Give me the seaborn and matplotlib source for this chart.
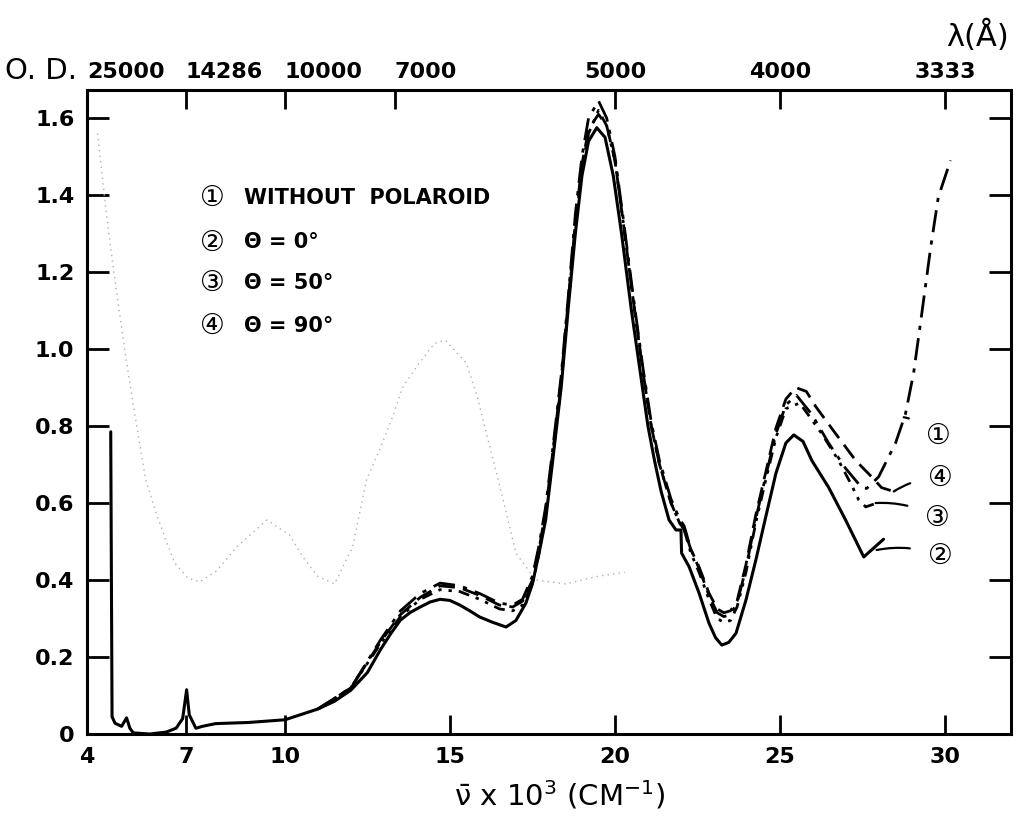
import numpy as np
import pandas as pd
import matplotlib
matplotlib.use("Agg")
import matplotlib.pyplot as plt
import matplotlib.ticker as mticker
import seaborn as sns

# ---------------- data ----------------
# curve 2 : theta = 0 deg (solid)
x2 = [4.72, 4.76, 4.85, 5.05, 5.2, 5.3, 5.4, 5.9, 6.4, 6.7, 6.9, 7.02, 7.1, 7.3, 7.5, 7.9,
      8.9, 10.0, 11.0, 11.5, 12.0, 12.5, 12.9, 13.2, 13.5, 13.8, 14.1, 14.4, 14.7, 15.0,
      15.3, 15.6, 15.9, 16.3, 16.7, 17.0, 17.3, 17.5, 17.7, 17.9, 18.1, 18.37, 18.6, 18.8,
      19.0, 19.2, 19.45, 19.7, 19.95, 20.2, 20.5, 20.8, 21.0, 21.2, 21.4, 21.64, 21.85,
      22.0, 22.02, 22.25, 22.55, 22.85, 23.05, 23.24, 23.45, 23.67, 23.97, 24.27, 24.57,
      24.88, 25.18, 25.42, 25.7, 25.97, 26.48, 26.99, 27.54, 28.14]
y2 = [0.785, 0.045, 0.028, 0.02, 0.042, 0.015, 0.003, 0.0, 0.005, 0.015, 0.04, 0.115,
      0.05, 0.015, 0.02, 0.027, 0.03, 0.037, 0.065, 0.085, 0.114, 0.16, 0.22, 0.26, 0.296,
      0.316, 0.33, 0.343, 0.35, 0.347, 0.335, 0.32, 0.304, 0.29, 0.278, 0.295, 0.34, 0.39,
      0.47, 0.556, 0.70, 0.90, 1.12, 1.30, 1.45, 1.54, 1.575, 1.55, 1.45, 1.30, 1.10, 0.92,
      0.80, 0.71, 0.63, 0.556, 0.53, 0.53, 0.47, 0.434, 0.366, 0.288, 0.25, 0.231, 0.238,
      0.262, 0.348, 0.452, 0.564, 0.678, 0.756, 0.777, 0.76, 0.71, 0.64, 0.556, 0.46,
      0.506]

xc = [11.0, 12.0, 12.9, 13.5, 14.1, 14.7, 15.3, 15.9, 16.5, 16.9, 17.2, 17.5, 17.7, 17.9,
      18.1, 18.37, 18.6, 18.8, 19.0, 19.2, 19.5, 19.75, 20.0, 20.25, 20.55, 20.85, 21.1,
      21.35, 21.7, 21.95, 22.1, 22.3, 22.55, 22.85, 23.1, 23.3, 23.5, 23.7, 23.97, 24.27,
      24.57, 24.88, 25.18]

# curve 1 : without polaroid (dash-dot)
x1 = xc + [25.5, 25.97, 26.48, 26.99, 27.48, 27.63, 27.99, 28.5, 28.8, 29.05, 29.3, 29.57,
           29.8, 30.17]
y1 = [0.065, 0.12, 0.245, 0.32, 0.365, 0.392, 0.385, 0.365, 0.34, 0.335, 0.35, 0.41, 0.49,
      0.59, 0.73, 0.93, 1.15, 1.35, 1.50, 1.60, 1.645, 1.60, 1.50, 1.34, 1.14, 0.95, 0.81,
      0.71, 0.61, 0.56, 0.54, 0.48, 0.43, 0.36, 0.315, 0.305, 0.31, 0.34, 0.43, 0.56, 0.67,
      0.78, 0.855,
      0.88, 0.83, 0.755, 0.69, 0.64, 0.638, 0.668, 0.755, 0.83, 0.937, 1.093, 1.265, 1.395,
      1.49]

# curve 3 : theta = 50 deg (dash-dot-dot)
x3 = xc + [25.6, 26.27, 26.78, 27.15, 27.39, 27.6, 27.94]
y3 = [0.065, 0.12, 0.235, 0.305, 0.35, 0.375, 0.37, 0.35, 0.325, 0.32, 0.335, 0.39, 0.47,
      0.57, 0.71, 0.91, 1.13, 1.32, 1.47, 1.56, 1.62, 1.58, 1.49, 1.33, 1.13, 0.94, 0.80,
      0.70, 0.60, 0.55, 0.53, 0.47, 0.42, 0.35, 0.30, 0.29, 0.295, 0.33, 0.42, 0.55, 0.66,
      0.77, 0.845,
      0.86, 0.78, 0.71, 0.65, 0.608, 0.59, 0.60]

# curve 4 : theta = 90 deg (dashed)
x4 = xc + [25.48, 25.8, 26.09, 26.69, 27.3, 27.78, 28.08, 28.45]
y4 = [0.065, 0.12, 0.24, 0.31, 0.355, 0.385, 0.38, 0.36, 0.335, 0.33, 0.345, 0.40, 0.48,
      0.58, 0.72, 0.92, 1.14, 1.33, 1.48, 1.57, 1.61, 1.58, 1.49, 1.33, 1.13, 0.94, 0.80,
      0.70, 0.60, 0.55, 0.53, 0.48, 0.434, 0.366, 0.325, 0.315, 0.32, 0.345, 0.44, 0.57,
      0.68, 0.795, 0.87,
      0.90, 0.89, 0.85, 0.78, 0.71, 0.668, 0.64, 0.63]

# faint dotted trace (show-through on the scan)
xf = [4.32, 4.59, 4.80, 5.13, 5.45, 5.78, 6.10, 6.42, 6.66, 7.06, 7.42, 7.93, 8.54, 9.45,
      10.14, 10.54, 10.99, 11.5, 12.05, 12.47, 12.9, 13.29, 13.56, 13.98, 14.53, 14.86,
      15.5, 15.83, 16.16, 16.59, 17.0, 17.6, 18.5, 19.5, 20.3]
yf = [1.56, 1.35, 1.21, 1.005, 0.83, 0.66, 0.574, 0.496, 0.444, 0.405, 0.395, 0.424, 0.486,
      0.556, 0.517, 0.46, 0.41, 0.39, 0.486, 0.66, 0.745, 0.83, 0.90, 0.953, 1.015, 1.023,
      0.963, 0.876, 0.763, 0.616, 0.47, 0.40, 0.39, 0.41, 0.42]

x_ticks = [4, 7, 10, 15, 20, 25, 30]
y_ticks = [0, 0.2, 0.4, 0.6, 0.8, 1.0, 1.2, 1.4, 1.6]
y_tick_labels = ["0", "0.2", "0.4", "0.6", "0.8", "1.0", "1.2", "1.4", "1.6"]
top_ticks = [4, 7, 10, 13.33, 20, 25, 30]
top_labels = ["25000", "14286", "10000", "7000", "5000", "4000", "3333"]
top_align = ["left", "left", "left", "left", "center", "center", "center"]
legend_entries = ["WITHOUT  POLAROID", "Θ = 0°", "Θ = 50°", "Θ = 90°"]
circled = ["①", "②", "③", "④"]

# ---------------- figure ----------------
sns.set_style("ticks")
plt.rcParams["font.family"] = ["DejaVu Sans", "Noto Sans CJK JP"]
plt.rcParams["axes.linewidth"] = 2.2
plt.rcParams["text.color"] = "black"
plt.rcParams["xtick.color"] = "black"
plt.rcParams["ytick.color"] = "black"
plt.rcParams["axes.edgecolor"] = "black"
plt.rcParams["xtick.top"] = True
plt.rcParams["xtick.minor.top"] = True
plt.rcParams["xtick.major.top"] = True

fig = plt.figure(figsize=(10.16, 8.24), dpi=100)
ax = fig.add_axes([0.0856, 0.1092, 0.9094, 0.7816])

sns.lineplot(x=xf, y=yf, ax=ax, color="#b0b0b0", linewidth=1.0,
             linestyle=(0, (1, 3)), estimator=None, sort=False)
sns.lineplot(x=x2, y=y2, ax=ax, color="black", linewidth=2.2,
             linestyle="-", estimator=None, sort=False)
sns.lineplot(x=x1, y=y1, ax=ax, color="black", linewidth=2.0,
             linestyle=(0, (8, 3, 1.5, 3)), estimator=None, sort=False)
sns.lineplot(x=x3, y=y3, ax=ax, color="black", linewidth=2.0,
             linestyle=(0, (4, 2.5, 1.2, 2.5, 1.2, 2.5)), estimator=None, sort=False)
sns.lineplot(x=x4, y=y4, ax=ax, color="black", linewidth=2.0,
             linestyle=(0, (6, 3)), estimator=None, sort=False)

ax.set_xlim(4, 32)
ax.set_ylim(0, 1.673)
ax.set_xticks(x_ticks)
ax.set_xticklabels([str(t) for t in x_ticks])
ax.set_yticks(y_ticks)
ax.set_yticklabels(y_tick_labels)
ax.set_xlabel("")
ax.set_ylabel("")

# top wavelength tick marks: minor ticks on the main axes' top edge (no twin axes)
ax.xaxis.remove_overlapping_locs = False
ax.xaxis.set_minor_locator(mticker.FixedLocator(top_ticks))

for s in ["top", "right", "left", "bottom"]:
    ax.spines[s].set_visible(True)
    ax.spines[s].set_linewidth(2.2)
    ax.spines[s].set_color("black")
ax.tick_params(axis="y", which="major", direction="in", length=16, width=2,
               left=True, right=True, labelsize=16, pad=9, colors="black")
ax.tick_params(axis="x", which="major", direction="in", length=14, width=2,
               bottom=True, top=False, labelbottom=True, labeltop=False,
               labelsize=16, pad=9, colors="black")
ax.tick_params(axis="x", which="minor", direction="in", length=14, width=2,
               bottom=False, top=True, labelbottom=False, labeltop=False,
               colors="black")
for lab in ax.get_xticklabels() + ax.get_yticklabels():
    lab.set_fontweight("bold")

# top wavelength labels
for xt, lbl, ha in zip(top_ticks, top_labels, top_align):
    ax.text(xt, 1.012, lbl, transform=ax.get_xaxis_transform(), ha=ha, va="bottom",
            fontsize=16, fontweight="bold", clip_on=False)

# axis titles
fig.text(0.005, 0.914, "O. D.", fontsize=21, ha="left", va="center")
fig.text(0.962, 0.956, "λ(Å)", fontsize=22, ha="center", va="center")
fig.text(0.551, 0.035, r"$\mathrm{\bar{\nu}}$ x 10$^{3}$ (CM$^{-1}$)", fontsize=21,
         ha="center", va="center")

# legend block (text)
leg_y = [1.392, 1.277, 1.171, 1.06]
for c, t, yy in zip(circled, legend_entries, leg_y):
    ax.text(7.8, yy, c, fontsize=20, ha="center", va="center")
    ax.text(8.75, yy, t, fontsize=15, fontweight="bold", ha="left", va="center")

# curve labels with leader lines
ann = [("①", (28.75, 0.823), (29.81, 0.774)),
       ("④", (28.45, 0.63), (29.87, 0.665)),
       ("③", (27.9, 0.60), (29.78, 0.561)),
       ("②", (27.93, 0.478), (29.87, 0.462))]
for lbl, xy, xyt in ann:
    ax.annotate(lbl, xy=xy, xytext=xyt, fontsize=20, ha="center", va="center",
                arrowprops=dict(arrowstyle="-", color="black", lw=1.6,
                                shrinkA=11, shrinkB=0,
                                connectionstyle="arc3,rad=0.15"))

fig.savefig("out.png", dpi=100, facecolor="white")
